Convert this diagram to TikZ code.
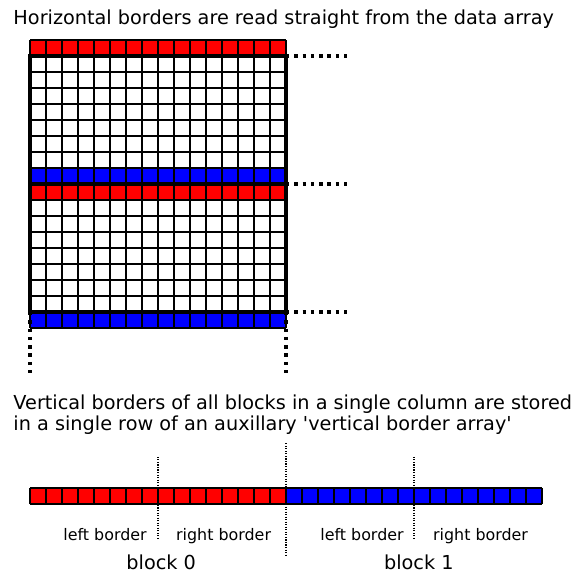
\documentclass[tikz,border=0pt]{standalone}
\usepackage{fontspec}
\setmainfont{DejaVu Sans}

\tikzset{
  cellgrid/.style={line width=1.1pt},
  outline/.style={line width=3pt},
  bigdots/.style={line width=2.4pt, dash pattern=on 2.4pt off 3.5pt},
  finedots/.style={line width=0.8pt, densely dotted},
  caption/.style={inner sep=0pt, font=\fontsize{13.7}{16}\selectfont},
  sublabel/.style={inner sep=0pt, font=\fontsize{11.3}{13}\selectfont},
}

\begin{document}
\begin{tikzpicture}[x=0.4cm, y=0.4cm]
            \useasboundingbox (-1.875,3.5) rectangle (34.06,-32.25);

            \node[caption, anchor=base west] (horiz) at (-1.05,1.94)
                {Horizontal borders are read straight from the data array};

            % two blocks of 16x16 with the border rows coloured
            \fill[red]  (0,1) rectangle (16,0);
            \fill[blue] (0,-7) rectangle (16,-8);
            \fill[red]  (0,-8) rectangle (16,-9);
            \fill[blue] (0,-16) rectangle (16,-17);
            \path[draw, cellgrid, step=1] (0,-17) grid (16,1);
            \path[draw, outline] (0,0) rectangle (16,-16)
                        (0,-8) -- (16,-8);

            \path[draw, bigdots] (16,0) -- (20,0)
                        (16,-8) -- (20,-8)
                        (16,-16) -- (20,-16)
                        (0,-16) -- (0,-20)
                        (16,-16) -- (16,-20);

            \node[caption, anchor=base west] (vert) at (-1.05,-22.1)
                {Vertical borders of all blocks in a single column are stored};
            \node[caption, anchor=base west] (vert2) at (-1.05,-23.4)
                {in a single row of an auxillary \textquotesingle vertical border array\textquotesingle};

            % the auxillary row: block 0 in red, block 1 in blue
            \path[draw, finedots] (8,-25.05) -- (8,-30.2)
                        (16,-24.2) -- (16,-31.25)
                        (24,-25.05) -- (24,-30.2);
            \fill[red]  (0,-27) rectangle (16,-28);
            \fill[blue] (16,-27) rectangle (32,-28);
            \path[draw, cellgrid, step=1] (0,-28) grid (32,-27);

            \node[sublabel, anchor=base] (left0) at (4.69,-30.3) {left border};
            \node[sublabel, anchor=base] (right0) at (12.1,-30.3) {right border};
            \node[sublabel, anchor=base] (left1) at (20.75,-30.3) {left border};
            \node[sublabel, anchor=base] (right1) at (28.16,-30.3) {right border};

            \node[caption, anchor=base] (block0) at (8.2,-32.06) {block 0};
            \node[caption, anchor=base] (block1) at (24.3,-32.06) {block 1};
        \end{tikzpicture}
\end{document}
